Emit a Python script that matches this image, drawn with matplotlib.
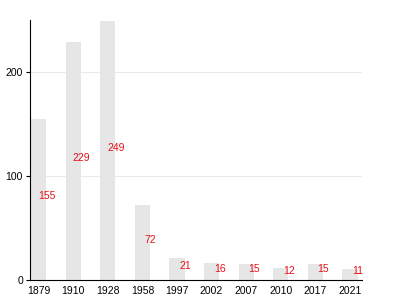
import matplotlib
matplotlib.use("Agg")
import matplotlib.pyplot as plt

years = ["1879", "1910", "1928", "1958", "1997", "2002", "2007", "2010", "2017", "2021"]
values = [155, 229, 249, 72, 21, 16, 15, 12, 15, 11]

plt.rcParams["font.family"] = ["Liberation Sans", "DejaVu Sans"]

fig = plt.figure(figsize=(4, 3), dpi=100)
ax = fig.add_axes([30 / 400, 20 / 300, 332 / 400, 260 / 300])

x = list(range(len(years)))
ax.bar(x, values, width=0.44, color="#e6e6e6", zorder=2)
for xi, v in zip(x, values):
    ax.text(xi + 0.23, v / 2 - 2, str(v), color="#e8101a", fontsize=7.5,
            ha="center", va="bottom", zorder=3)

ax.set_xlim(-0.25, 9.35)
ax.set_ylim(0, 250)
ax.set_yticks([0, 100, 200])
ax.set_xticks(x)
ax.set_xticklabels(years)
ax.yaxis.grid(True, color="#ebebeb", linewidth=0.8, zorder=0)
ax.tick_params(axis="both", labelsize=7.5, length=3, pad=2, colors="black")
ax.tick_params(axis="x", length=0, pad=4)
ax.spines["top"].set_visible(False)
ax.spines["right"].set_visible(False)

plt.savefig("out.png")
plt.close()
